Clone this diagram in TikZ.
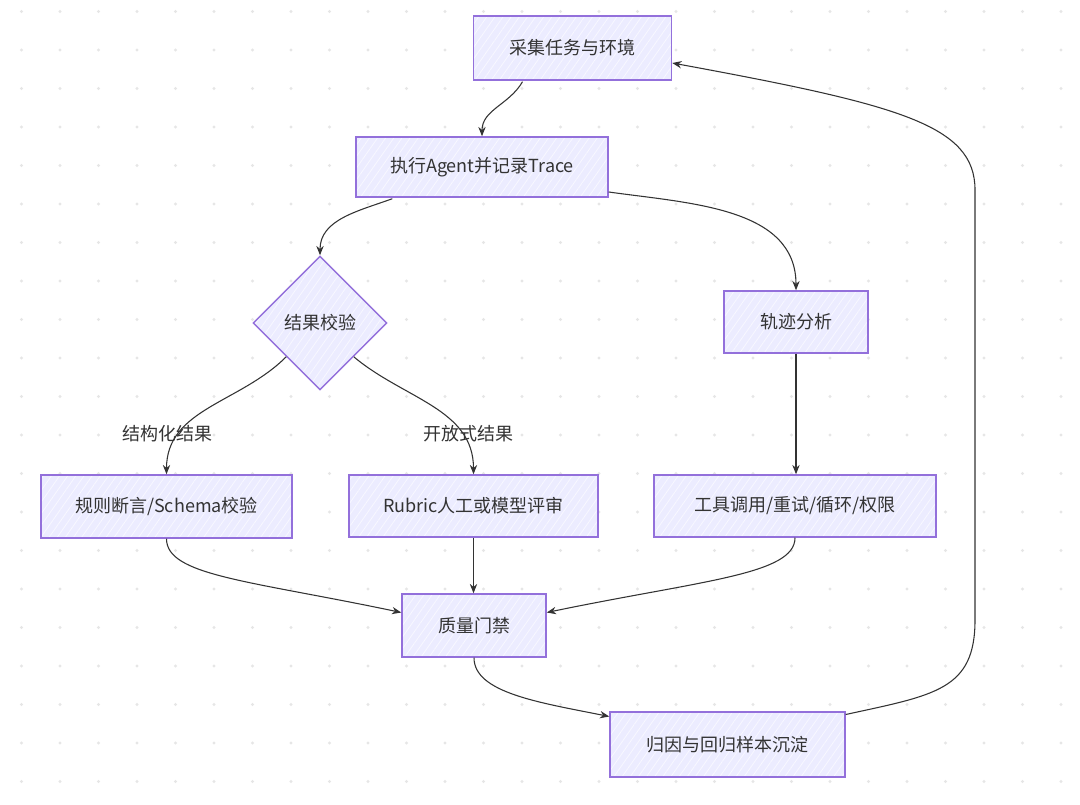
\documentclass[tikz,border=0pt]{standalone}
\usepackage{fontspec}
\setmainfont{Noto Sans CJK SC}
\usetikzlibrary{shapes.geometric,arrows.meta,calc,patterns.meta}
\definecolor{boxfill}{HTML}{ECECFF}
\definecolor{boxline}{HTML}{9370DB}
\definecolor{txt}{HTML}{333333}
\definecolor{hatch}{HTML}{F8F8FF}
\definecolor{dotc}{HTML}{E6E6E6}
\begin{document}
\begin{tikzpicture}[x=0.75pt,y=-0.75pt,
  box/.style={draw=boxline,line width=1.1pt,
    preaction={fill=boxfill},
    preaction={pattern={Lines[angle=55,distance=5pt,line width=0.6pt]},pattern color=hatch},
    text=txt,font=\fontsize{13.5pt}{16pt}\selectfont,inner sep=0pt,align=center},
  lbl/.style={text=txt,font=\fontsize{13.5pt}{16pt}\selectfont,inner sep=0pt},
  conn/.style={draw=txt,line width=0.8pt,-{Stealth[length=7pt,width=5.5pt]}}
]
\fill[white] (0,0) rectangle (1080,805);
\useasboundingbox (0,0) rectangle (1080,805);
\foreach \i in {0,...,27}{
  \foreach \j in {0,...,20}{
    \fill[dotc] (21.5+38.5*\i,11.5+38.5*\j) circle[radius=1.2pt];
  }
}
% nodes
\node[box,minimum width=148.5pt,minimum height=48pt] (n1) at (572.5,48) {采集任务与环境};
\node[box,minimum width=189pt,minimum height=45pt] (n2) at (482,167) {执行Agent并记录Trace};
\node[box,shape=diamond,minimum width=100.5pt,minimum height=100.5pt] (d) at (320,323) {结果校验};
\node[box,minimum width=108pt,minimum height=46.5pt] (n4) at (796,322) {轨迹分析};
\node[box,minimum width=211.5pt,minimum height=46.5pt] (n5) at (795,506) {工具调用/重试/循环/权限};
\node[box,minimum width=188.25pt,minimum height=47.25pt] (n6) at (166.5,506.5) {规则断言/Schema校验};
\node[box,minimum width=186.75pt,minimum height=46.5pt] (n7) at (473.5,506) {Rubric人工或模型评审};
\node[box,minimum width=108pt,minimum height=47.25pt] (n8) at (474,625.5) {质量门禁};
\node[box,minimum width=176.25pt,minimum height=48.75pt] (n9) at (727.5,744.5) {归因与回归样本沉淀};
% edge labels
\node[lbl] (l1) at (167,434) {结构化结果};
\node[lbl] (l2) at (468,434) {开放式结果};
% connectors
\draw[conn] ($(n1.south)+(-50,1)$) to[out=240,in=90] (n2.north);
\draw[conn] ($(n2.south west)+(37,1)$) to[out=200,in=90] (d.north);
\draw[conn] ($(n2.east)+(0,25)$) to[out=-8,in=90] (n4.north);
\draw[conn] (d.south west) to[out=225,in=90] (n6.north);
\draw[conn] (d.south east) to[out=-40,in=90] (n7.north);
\draw[conn] (n4.south) -- (n4.south |- n5.north);
\draw[conn] (n6.south) .. controls +(0,37) and +(-152,-32) .. ($(n8.west)+(0,-13)$);
\draw[conn] (n7.south) -- (n7.south |- n8.north);
\draw[conn] (n5.south) .. controls +(0,37) and +(154,-32) .. ($(n8.east)+(0,-13)$);
\draw[conn] (n8.south) .. controls +(0,35) and +(-70,-14) .. ($(n9.west)+(0,-28)$);
\coordinate (r1) at (975,620);
\coordinate (r2) at (975,190);
\draw[conn] ($(n9.east)+(0,-30)$) .. controls (935,695) and (975,690) .. (r1) -- (r2) .. controls (975,125) and (900,105) .. ($(n1.east)+(0,15)$);
\end{tikzpicture}
\end{document}
